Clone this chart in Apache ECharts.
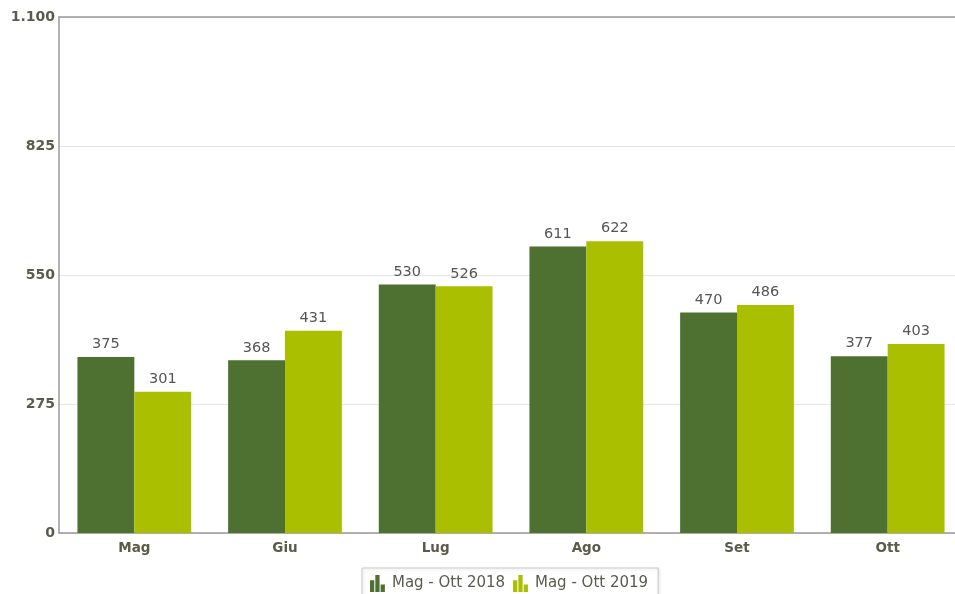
<!DOCTYPE html>
<html><head><meta charset="utf-8">
<script src="https://cdn.jsdelivr.net/npm/echarts@6/dist/echarts.min.js"></script>
<style>html,body{margin:0;padding:0;background:#fff;overflow:hidden}#c{width:963px;height:594px}</style>
</head><body><div id="c"></div>
<script>
var categories = ['Mag', 'Giu', 'Lug', 'Ago', 'Set', 'Ott'];
var series2018 = [375, 368, 530, 611, 470, 377];
var series2019 = [301, 431, 526, 622, 486, 403];
var seriesNames = ['Mag - Ott 2018', 'Mag - Ott 2019'];
var yTicks = [0, 275, 550, 825, 1100];

var FONT = 'Verdana, "DejaVu Sans", sans-serif';
var icon = 'path://M0,5h4v11h-4z M5,0h4v16h-4z M10,9h4v7h-4z';
var chart = echarts.init(document.getElementById('c'));
function fmt(v){ return String(v).replace(/\B(?=(\d{3})+(?!\d))/g, '.'); }
chart.setOption({
  animation: false,
  grid: { left: 59, right: 0, top: 17, bottom: 61 },
  legend: {
    bottom: -8, left: 362,
    data: seriesNames,
    icon: icon, itemWidth: 17, itemHeight: 17, itemGap: 8,
    padding: [7, 10, 10, 8],
    borderColor: '#ccc', borderWidth: 1,
    shadowColor: 'rgba(0,0,0,0.15)', shadowBlur: 3, shadowOffsetX: 1, shadowOffsetY: 1,
    backgroundColor: '#fff',
    textStyle: { fontFamily: FONT, fontSize: 15, color: '#5a5a50', padding: [0,0,0,1] }
  },
  xAxis: [{
    type: 'category', data: categories,
    axisLine: { lineStyle: { color: '#999', width: 1.5 } },
    axisTick: { show: false },
    axisLabel: { fontFamily: FONT, fontWeight: 'bold', fontSize: 13.5, color: '#5b5b4b', margin: 8 }
  }, {
    type: 'category', data: categories, position: 'top',
    axisLine: { show: true, lineStyle: { color: '#999', width: 1.5 } },
    axisTick: { show: false }, axisLabel: { show: false }, splitLine: { show: false }
  }],
  yAxis: {
    type: 'value', min: yTicks[0], max: yTicks[yTicks.length-1], interval: yTicks[1]-yTicks[0],
    axisLine: { show: true, lineStyle: { color: '#999', width: 1.5 } },
    axisTick: { show: false },
    splitLine: { lineStyle: { color: '#e6e6e6' } },
    axisLabel: { fontFamily: FONT, fontWeight: 'bold', fontSize: 14, color: '#5b5b4b', margin: 4, formatter: fmt }
  },
  series: [
    { name: seriesNames[0], type: 'bar', data: series2018, barGap: '0%', barCategoryGap: '24.5%',
      itemStyle: { color: '#4e7131' },
      label: { show: true, position: 'top', distance: 5, fontFamily: FONT, fontSize: 14.5, color: '#555' } },
    { name: seriesNames[1], type: 'bar', data: series2019, barGap: '0%', barCategoryGap: '24.5%',
      itemStyle: { color: '#a9bf00' },
      label: { show: true, position: 'top', distance: 5, fontFamily: FONT, fontSize: 14.5, color: '#555' } }
  ]
});
</script></body></html>
